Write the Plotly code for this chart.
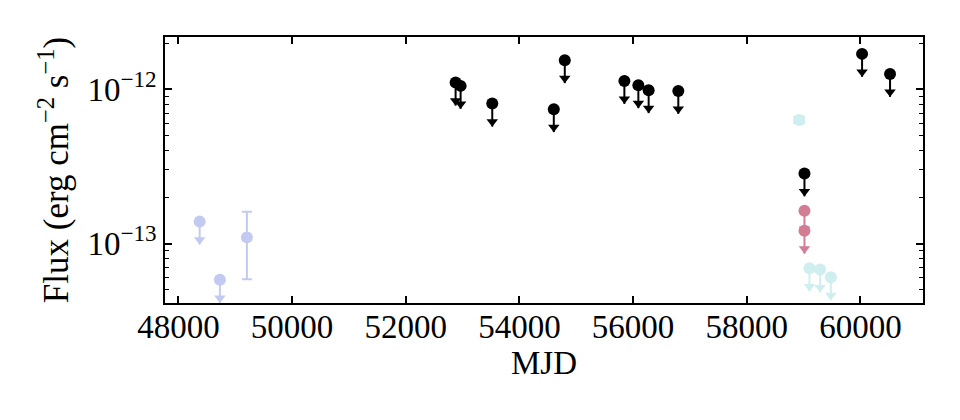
import plotly.graph_objects as go

# upper limits (black)
ul_mjd = [52877, 52965, 53522, 54605, 54798, 55847, 56093, 56274, 56796, 59016, 60030, 60522]
ul_flux = [1.107e-12, 1.054e-12, 8.09e-13, 7.44e-13, 1.546e-12, 1.135e-12, 1.064e-12,
           9.88e-13, 9.78e-13, 2.85e-13, 1.70e-12, 1.26e-12]

# early data (lavender)
old_ul_mjd = [48373, 48729]
old_ul_flux = [1.387e-13, 5.81e-14]
old_det_mjd = [49204]
old_det_flux = [1.096e-13]
old_det_hi = [1.61e-13]
old_det_lo = [5.86e-14]

# pink upper limits
pink_ul_mjd = [59016, 59016]
pink_ul_flux = [1.63e-13, 1.21e-13]

# cyan data
cyan_det_mjd = [58923]
cyan_det_flux = [6.34e-13]
cyan_det_hi = [6.65e-13]
cyan_det_lo = [6.05e-13]
cyan_ul_mjd = [59104, 59292, 59480]
cyan_ul_flux = [6.9e-14, 6.78e-14, 6.04e-14]

BLACK = "#000000"
LAV = "#c3caf2"
PINK = "#d27d94"
CYAN = "#cfeeef"

ARROW = 0.71  # arrow tip relative to the limit value
HEAD = 1.075  # triangle centre sits a little above the tip

FONT = "Liberation Serif"


def add_limits(fig, x, y, color):
    sx, sy = [], []
    for xi, yi in zip(x, y):
        sx += [xi, xi, None]
        sy += [yi, yi * ARROW, None]
    fig.add_trace(go.Scatter(x=sx, y=sy, mode="lines", line=dict(color=color, width=2),
                             showlegend=False, hoverinfo="skip"))
    fig.add_trace(go.Scatter(x=x, y=[v * ARROW * HEAD for v in y], mode="markers",
                             marker=dict(symbol="triangle-down", size=10, color=color),
                             showlegend=False, hoverinfo="skip"))
    fig.add_trace(go.Scatter(x=x, y=y, mode="markers",
                             marker=dict(symbol="circle", size=12, color=color),
                             showlegend=False))


def add_detections(fig, x, y, hi, lo, color, capw=5):
    fig.add_trace(go.Scatter(
        x=x, y=y, mode="markers",
        marker=dict(symbol="circle", size=12, color=color),
        error_y=dict(type="data", symmetric=False,
                     array=[h - v for h, v in zip(hi, y)],
                     arrayminus=[v - l for l, v in zip(lo, y)],
                     color=color, thickness=2, width=capw),
        showlegend=False))


fig = go.Figure()
add_detections(fig, old_det_mjd, old_det_flux, old_det_hi, old_det_lo, LAV)
add_limits(fig, old_ul_mjd, old_ul_flux, LAV)
add_detections(fig, cyan_det_mjd, cyan_det_flux, cyan_det_hi, cyan_det_lo, CYAN, capw=6)
add_limits(fig, cyan_ul_mjd, cyan_ul_flux, CYAN)
add_limits(fig, pink_ul_mjd, pink_ul_flux, PINK)
add_limits(fig, ul_mjd, ul_flux, BLACK)

minor_vals = [k * 10.0 ** e for e in range(-14, -11) for k in range(2, 10)]

# the page body adds ~8px offset, margins compensate for it
fig.update_layout(
    width=960, height=420,
    margin=dict(l=157, r=45, t=29, b=125),
    plot_bgcolor="white", paper_bgcolor="white",
    font=dict(family=FONT, size=33, color="black"),
    xaxis=dict(
        range=[47763, 61102],
        tickvals=[48000, 50000, 52000, 54000, 56000, 58000, 60000],
        ticktext=["48000", "50000", "52000", "54000", "56000", "58000", "60000"],
        ticks="inside", ticklen=7, tickwidth=1.5, tickcolor="black",
        ticklabelstandoff=-6,
        showline=True, linecolor="black", linewidth=1.5, mirror="ticks",
        showgrid=False, zeroline=False,
        title=dict(text="MJD", font=dict(family=FONT, size=33), standoff=0),
    ),
    yaxis=dict(
        type="log",
        range=[-13.386, -11.66],
        tickvals=[1e-13, 1e-12],
        ticktext=["10<sup>\u221213</sup>", "10<sup>\u221212</sup>"],
        ticks="inside", ticklen=7, tickwidth=1.5, tickcolor="black",
        minor=dict(tickvals=minor_vals, ticks="inside", ticklen=4, tickwidth=1,
                   tickcolor="black", showgrid=False),
        showline=True, linecolor="black", linewidth=1.5, mirror="ticks",
        showgrid=False, zeroline=False,
        title=dict(text="Flux (erg cm<sup>\u22122</sup> s<sup>\u22121</sup>)",
                   font=dict(family=FONT, size=35), standoff=8),
    ),
)

fig.write_html("out.html")
